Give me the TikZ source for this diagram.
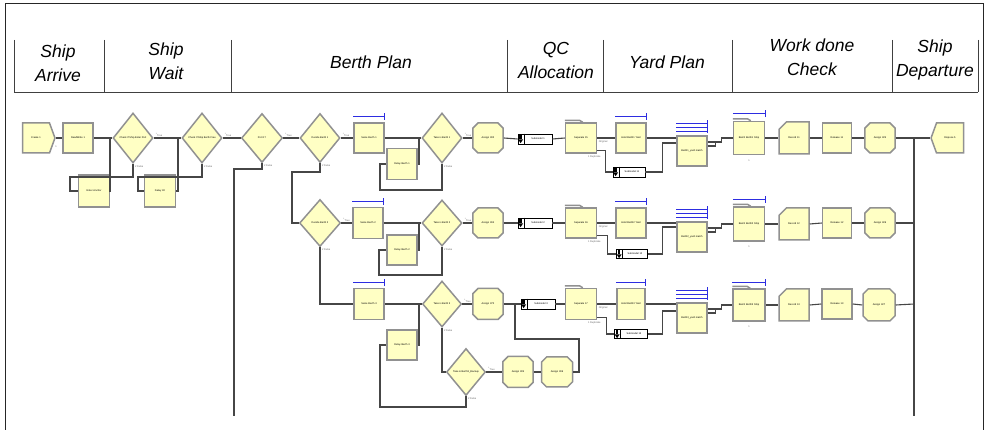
\documentclass[tikz,border=0pt]{standalone}
\usepackage{fontspec}
\setmainfont{Liberation Sans}
\usetikzlibrary{shapes.geometric,shapes.misc,shapes.symbols}
\definecolor{modfill}{RGB}{255,255,196}
\definecolor{modedge}{RGB}{145,145,145}
\definecolor{linec}{RGB}{70,70,70}
\definecolor{barblue}{RGB}{45,45,225}
\newcommand\modfont{\fontsize{2.5}{3}\selectfont}
\newcommand\hdfont{\fontsize{17.5}{24}\selectfont\itshape}
\newcommand\bbar[2]{%
  \draw[bluebar] ([yshift=#2]#1.north west) -- ([yshift=#2]#1.north east);
  \draw[bluebar] ([yshift=#2-3.5pt]#1.north east) -- ([yshift=#2+3.5pt]#1.north east);}
\newcommand\mbar[1]{%
  \foreach \oo in {4,8,12}{\draw[bluebar] ([yshift=\oo pt]#1.north west) -- ([yshift=\oo pt]#1.north east);}
  \draw[bluebar] ([yshift=2pt]#1.north east) -- ([yshift=15pt]#1.north east);}
\newcommand\septab[1]{%
  \draw[modedge, line width=1.5pt] ([yshift=1.8pt]#1.north west) -- ([xshift=15pt,yshift=1.8pt]#1.north west) -- ([xshift=18pt]#1.north west);}
\newcommand\subicon[1]{%
  \fill[black] ([xshift=1.8pt,yshift=3.8pt]#1.west) rectangle ([xshift=4.2pt,yshift=-0.5pt]#1.west);
  \fill[black] ([xshift=0.6pt,yshift=-0.5pt]#1.west) -- ([xshift=5.4pt,yshift=-0.5pt]#1.west) -- ([xshift=3pt,yshift=-4.2pt]#1.west) -- cycle;
  \draw[black, line width=0.5pt] ([xshift=6.2pt]#1.north west) -- ([xshift=6.2pt]#1.south west);}
\newcommand\tfl[1]{%
  \node[lab, anchor=south west] (#1T) at ([xshift=1.5pt,yshift=1pt]#1.east) {\textsuperscript{1}True};
  \node[lab, anchor=north west] (#1F) at ([xshift=1.5pt,yshift=-1pt]#1.south) {2 False};}
\newcommand\seplab[1]{%
  \node[lab, anchor=north west] (#1O) at ([xshift=1pt,yshift=-2pt]#1.east) {Original};
  \node[lab, anchor=north] (#1D) at ([xshift=-3pt,yshift=-1pt]#1.south east) {1 Duplicate};}
\begin{document}
\begin{tikzpicture}[x=1pt,y=-1pt,
  mod/.style={draw=modedge, line width=1.5pt, fill=modfill, minimum width=30pt, minimum height=30pt,
    inner sep=0.5pt, font=\modfont, align=center, text width=26pt},
  dia/.style={diamond, draw=modedge, line width=1.5pt, fill=modfill, minimum width=40pt, minimum height=50pt,
    inner sep=0pt, font=\modfont},
  asg/.style={mod, chamfered rectangle, chamfered rectangle xsep=3.5pt, chamfered rectangle ysep=3.5pt},
  rec/.style={mod, chamfered rectangle, chamfered rectangle corners=north west, chamfered rectangle xsep=6pt, chamfered rectangle ysep=6pt},
  sepm/.style={mod, minimum width=31pt},
  subm/.style={draw=black, line width=0.8pt, fill=white, minimum width=34pt, minimum height=10pt, inner sep=0pt, font=\modfont},
  conn/.style={draw=linec, line width=1.1pt},
  bluebar/.style={draw=barblue, line width=1.1pt},
  lab/.style={font=\modfont, text=black!60, inner sep=0.3pt},
  hd/.style={font=\hdfont, align=center, inner sep=0pt},
  frame/.style={draw=black!85, line width=1pt},
  hline/.style={draw=black!75, line width=0.9pt}]
\useasboundingbox (0,0) rectangle (989,430);
% frame and header
\draw[frame] (5,430) -- (5,4) -- (983,4) -- (983,430);
\draw[hline] (14,92) -- (978,92);
\foreach \x in {14,104,231,507,603,732,892,978}{\draw[hline] (\x,40) -- (\x,92);}
\node[hd] (h1) at (58,63) {Ship\\Arrive};
\node[hd] (h2) at (166,61) {Ship\\Wait};
\node[hd] (h3) at (371,62) {Berth Plan};
\node[hd] (h4) at (556,60) {QC\\Allocation};
\node[hd] (h5) at (667,62) {Yard Plan};
\node[hd] (h6) at (812,57) {Work done\\Check};
\node[hd] (h7) at (935,60) {Ship\\Departure};
% ---------- row 1 ----------
\node[mod, signal, signal to=east, signal pointer angle=140, minimum width=32pt] (create) at (36,138) {Create 1};
\node[mod] (rw) at (78,138) {ReadWrite 1};
\node[dia] (d1) at (133,138) {Check If Ship Enter Port};
\node[dia] (d2) at (202,138) {Check If Ship Berth Free};
\node[mod, minimum width=31pt, minimum height=32pt] (enter) at (94,191) {Enter Anchor};
\node[mod, minimum width=31pt, minimum height=32pt] (dly) at (160,191) {Delay 30};
\node[dia, minimum width=41pt, minimum height=49pt] (port) at (262,138) {Port 1?};
\node[dia, minimum height=49pt] (db1) at (320,138) {Decide Berth 1};
\node[mod] (seize1) at (369,138) {Seize Berth 1};
\node[mod, minimum height=31pt] (dl1) at (402,164) {Delay Berth 1};
\node[dia] (tk1) at (442,138) {Take is Berth 1};
\node[asg] (as1) at (488,138) {Assign 300};
\node[subm] (sm1) at (535,139) {\hspace*{6pt}Submodel 1};
\node[sepm] (sep1) at (581,138) {Separate 15};
\node[mod] (hold1) at (631,138) {Hold Berth1 Yard};
\node[subm, minimum width=32pt] (sm1b) at (629,172) {\hspace*{6pt}Submodel 11};
\node[mod] (match1) at (692,151) {Berth1\_yard match};
\node[sepm, minimum height=33pt] (batch1) at (749,138) {Batch Berth1 Ship};
\node[rec, minimum height=32pt] (rec1) at (794,138) {Record 11};
\node[mod, minimum width=29pt] (rel1) at (837,138) {Release 11};
\node[asg, minimum width=29pt] (asf1) at (880,138) {Assign 325};
\node[mod, signal, signal to=west, signal pointer angle=140, minimum width=32pt] (disp) at (950,138) {Dispose 5};
% ---------- row 2 ----------
\node[dia, minimum width=41pt, minimum height=47pt] (db2) at (320,223) {Decide Berth 2};
\node[mod, minimum height=31pt] (seize2) at (368,223) {Seize Berth 2};
\node[mod] (dl2) at (402,250) {Delay Berth 2};
\node[dia, minimum height=46pt] (tk2) at (442,223) {Take is Berth 2};
\node[asg] (as2) at (488,223) {Assign 304};
\node[subm] (sm2) at (535,223) {\hspace*{6pt}Submodel 2};
\node[sepm] (sep2) at (581,223) {Separate 16};
\node[mod] (hold2) at (631,223) {Hold Berth2 Yard};
\node[subm, minimum width=31pt, minimum height=9pt] (sm2b) at (632,254) {\hspace*{6pt}Submodel 12};
\node[mod] (match2) at (692,237) {Berth2\_yard match};
\node[sepm, minimum height=34pt] (batch2) at (749,224) {Batch Berth2 Ship};
\node[rec, minimum height=32pt] (rec2) at (794,224) {Record 12};
\node[mod, minimum width=29pt] (rel2) at (837,223) {Release 12};
\node[asg, minimum width=29pt] (asf2) at (880,223) {Assign 326};
% ---------- row 3 ----------
\node[mod, minimum height=31pt] (seize3) at (369,304) {Seize Berth 3};
\node[dia, minimum width=39pt, minimum height=46pt] (tk3) at (442,304) {Take is Berth 3};
\node[mod] (dl3) at (402,345) {Delay Berth 3};
\node[dia, minimum width=39pt, minimum height=47pt] (tk4) at (466,372) {Take is Berth3\_Backup};
\node[asg, minimum height=31pt] (as3) at (488,304) {Assign 370};
\node[asg, minimum height=31pt] (as3b) at (518,372) {Assign 305};
\node[asg, minimum width=31pt] (as3c) at (557,372) {Assign 306};
\node[subm] (sm3) at (538,304) {\hspace*{6pt}Submodel 3};
\node[sepm, minimum height=31pt] (sep3) at (581,304) {Separate 17};
\node[mod, minimum width=28pt, minimum height=31pt] (hold3) at (631,304) {Hold Berth3 Yard};
\node[subm, minimum width=33pt, minimum height=9pt] (sm3b) at (631,334) {\hspace*{6pt}Submodel 13};
\node[mod] (match3) at (692,318) {Berth3\_yard match};
\node[sepm, minimum width=32pt, minimum height=32pt] (batch3) at (749,305) {Batch Berth3 Ship};
\node[rec, minimum height=32pt] (rec3) at (794,305) {Record 13};
\node[mod] (rel3) at (837,304) {Release 13};
\node[asg, minimum width=32pt, minimum height=32pt] (asf3) at (879,305) {Assign 327};
% decorations
\foreach \n in {sm1,sm1b,sm2,sm2b,sm3,sm3b}{\subicon{\n}}
\foreach \n in {sep1,sep2,sep3,batch1,batch2,batch3}{\septab{\n}}
\bbar{seize1}{6pt}\bbar{seize2}{5pt}\bbar{seize3}{5pt}
\bbar{hold1}{6pt}\bbar{hold2}{6pt}\bbar{hold3}{5pt}
\bbar{batch1}{7pt}\bbar{batch2}{7pt}\bbar{batch3}{6pt}
\mbar{match1}\mbar{match2}\mbar{match3}
\foreach \n in {d1,d2,port,db1,db2,tk1,tk2,tk3,tk4}{\tfl{\n}}
\foreach \n in {sep1,sep2,sep3}{\seplab{\n}}
\node[lab, anchor=west] (c1) at ([xshift=-1pt,yshift=-9pt]create.east) {1};
\node[lab] (b1) at ([yshift=-5pt]batch1.south) {1};
\node[lab] (b2) at ([yshift=-5pt]batch2.south) {1};
\node[lab] (b3) at ([yshift=-5pt]batch3.south) {1};
% junction coordinates
\coordinate (j1) at (110,138);
\coordinate (j2) at (178,138);
\coordinate (lbot) at (234,416);
\coordinate (rtop) at (914,138);
\coordinate (rbot) at (914,416);
\coordinate (r2) at (914,223);
\coordinate (r3) at (914,304);
\coordinate (k1) at (419,138);
\coordinate (k2) at (419,223);
\coordinate (k3) at (419,304);
\coordinate (m3) at (515,304);
% ---------- connectors row 1 ----------
\draw[conn] (create.east) -- (rw.west);
\draw[conn] (rw.east) -- (d1.west);
\draw[conn] (d1.south) -- (133,177) -- (70,177) |- (enter.west);
\draw[conn] (enter.east) -| (j1);
\draw[conn] (d1.east) -- (d2.west);
\draw[conn] (d2.south) -- (202,177) -- (138,177) |- (dly.west);
\draw[conn] (dly.east) -| (j2);
\draw[conn] (d2.east) -- (port.west);
\draw[conn] (port.south) -- (262,169) -- (234,169) -- (lbot);
\draw[conn] (port.east) -- (db1.west);
\draw[conn] (db1.south) -- (320,172) -- (292,172) |- (db2.west);
\draw[conn] (db1.east) -- (seize1.west);
\draw[conn] (seize1.east) -- (tk1.west);
\draw[conn] (tk1.south) -- (442,190) -- (380,190) |- (dl1.west);
\draw[conn] (dl1.east) -| (k1);
\draw[conn] (tk1.east) -- (as1.west);
\draw[conn] (as1.east) -- (sm1.west);
\draw[conn] (sm1.east) -- (sep1.west);
\draw[conn] (sep1.east) -- (hold1.west);
\draw[conn] ([yshift=3pt]sep1.south east) -- ++(8,0) |- (sm1b.west);
\draw[conn] (hold1.east) -- (hold1.east -| match1.west);
\draw[conn] (sm1b.east) -- ++(17,0) |- ([yshift=8pt]match1.west);
\draw[conn] ([yshift=9pt]match1.east) -- ++(14,0) |- (batch1.west);
\draw[conn] ([yshift=5pt]match1.east) -- ++(8,0) -- ++(0,-4);
\draw[conn] (batch1.east) -- (rec1.west);
\draw[conn] (rec1.east) -- (rel1.west);
\draw[conn] (rel1.east) -- (asf1.west);
\draw[conn] (asf1.east) -- (disp.west);
\draw[conn] (rtop) -- (rbot);
% ---------- connectors row 2 ----------
\draw[conn] (db2.south) |- (seize3.west);
\draw[conn] (db2.east) -- (seize2.west);
\draw[conn] (seize2.east) -- (tk2.west);
\draw[conn] (tk2.south) -- (442,275) -- (379,275) |- (dl2.west);
\draw[conn] (dl2.east) -| (k2);
\draw[conn] (tk2.east) -- (as2.west);
\draw[conn] (as2.east) -- (sm2.west);
\draw[conn] (sm2.east) -- (sep2.west);
\draw[conn] (sep2.east) -- (hold2.west);
\draw[conn] ([yshift=3pt]sep2.south east) -- ++(10,0) |- (sm2b.west);
\draw[conn] (hold2.east) -- (hold2.east -| match2.west);
\draw[conn] (sm2b.east) -- ++(15,0) |- ([yshift=10pt]match2.west);
\draw[conn] ([yshift=9pt]match2.east) -- ++(14,0) |- (batch2.west);
\draw[conn] ([yshift=5pt]match2.east) -- ++(8,0) -- ++(0,-4);
\draw[conn] (batch2.east) -- (rec2.west);
\draw[conn] (rec2.east) -- (rel2.west);
\draw[conn] (rel2.east) -- (asf2.west);
\draw[conn] (asf2.east) -- (r2);
% ---------- connectors row 3 ----------
\draw[conn] (seize3.east) -- (tk3.west);
\draw[conn] (tk3.south) |- (tk4.west);
\draw[conn] (tk4.south) -- (466,407) -- (380,407) |- (dl3.west);
\draw[conn] (dl3.east) -| (k3);
\draw[conn] (tk3.east) -- (as3.west);
\draw[conn] (as3.east) -- (sm3.west);
\draw[conn] (tk4.east) -- (as3b.west);
\draw[conn] (as3b.east) -- (as3c.west);
\draw[conn] (as3c.east) -- (579,372) -- (579,339) -- (515,339) -- (m3);
\draw[conn] (sm3.east) -- (sep3.west);
\draw[conn] (sep3.east) -- (hold3.west);
\draw[conn] ([yshift=3pt]sep3.south east) -- ++(9,0) |- (sm3b.west);
\draw[conn] (hold3.east) -- (hold3.east -| match3.west);
\draw[conn] (sm3b.east) -- ++(15,0) |- ([yshift=7pt]match3.west);
\draw[conn] ([yshift=9pt]match3.east) -- ++(14,0) |- (batch3.west);
\draw[conn] ([yshift=5pt]match3.east) -- ++(8,0) -- ++(0,-4);
\draw[conn] (batch3.east) -- (rec3.west);
\draw[conn] (rec3.east) -- (rel3.west);
\draw[conn] (rel3.east) -- (asf3.west);
\draw[conn] (asf3.east) -- (r3);
\end{tikzpicture}
\end{document}
